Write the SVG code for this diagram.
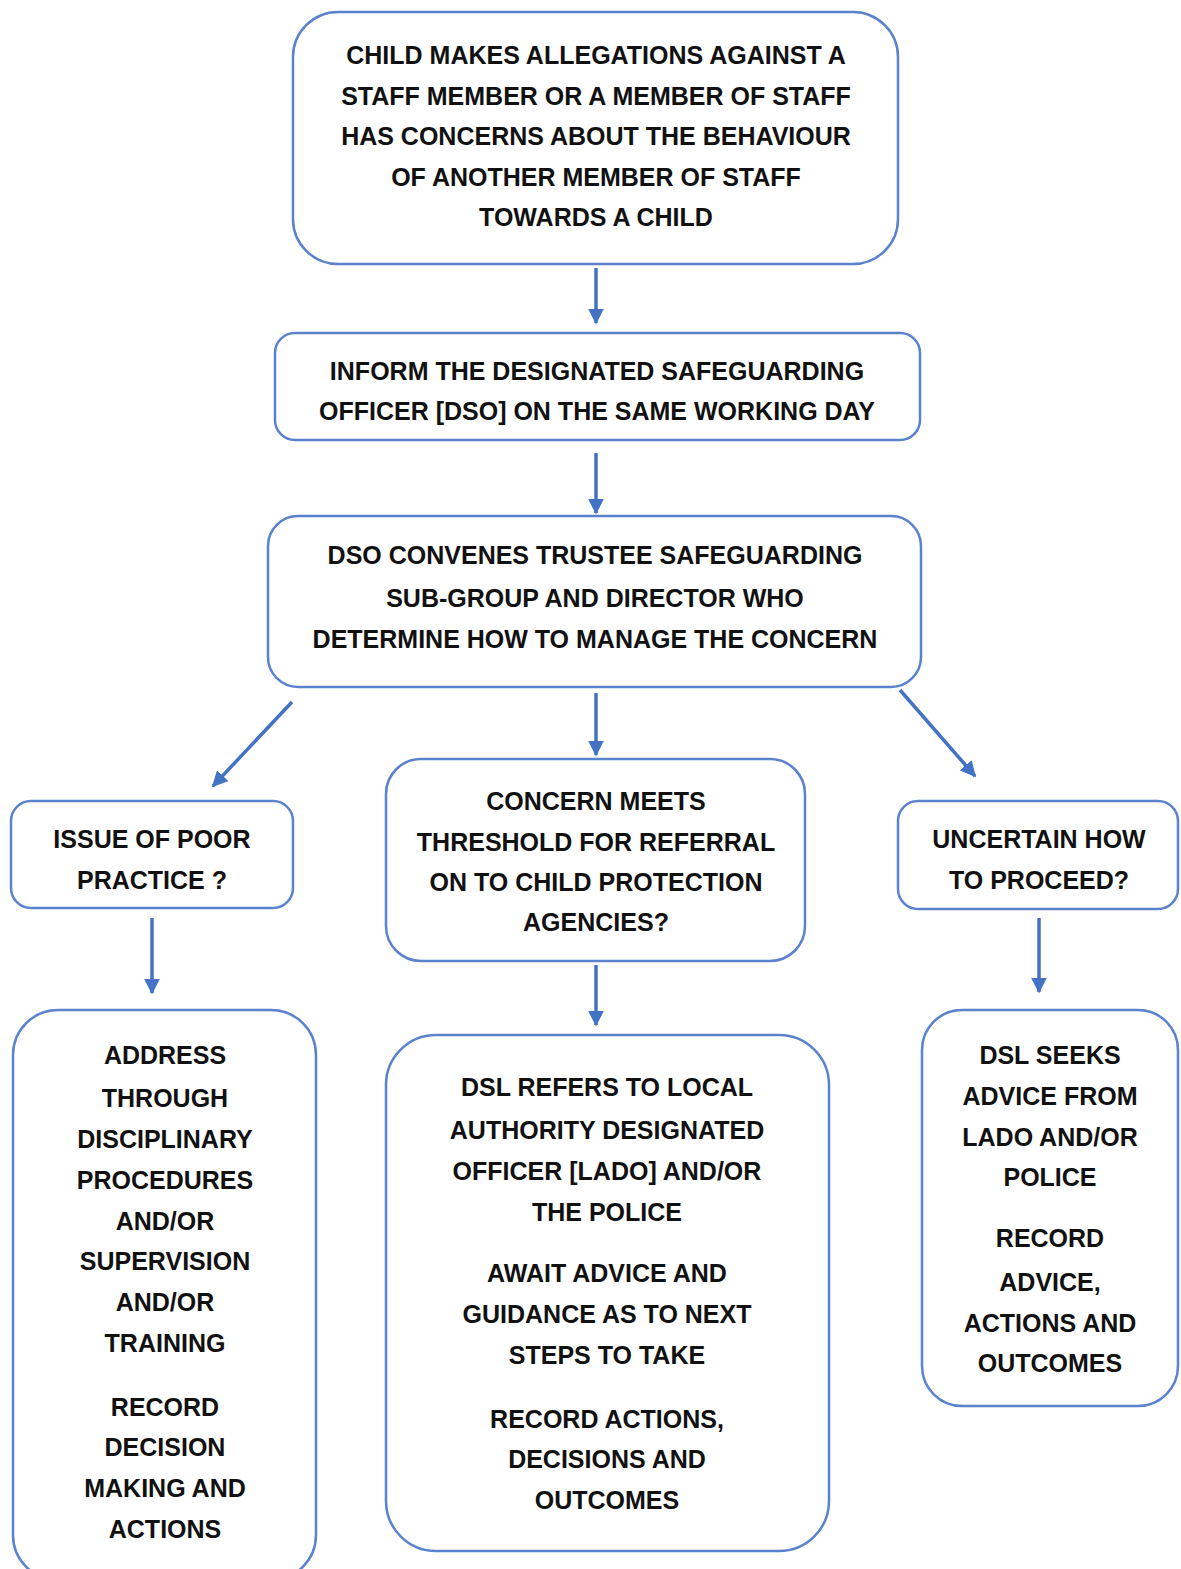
<svg xmlns="http://www.w3.org/2000/svg" width="1181" height="1569" viewBox="0 0 1181 1569">
<style>
.box{fill:#fff;stroke:#5b82cc;stroke-width:2.5}
.t{font-family:"Liberation Sans",Arial,sans-serif;font-weight:bold;font-size:25px;fill:#111;text-anchor:middle}
.c{stroke:#4472c4;stroke-width:3.5;fill:none}
</style>
<defs>
<marker id="ah" viewBox="0 0 10 10" refX="9" refY="5" markerWidth="4.5" markerHeight="4.5" orient="auto" markerUnits="strokeWidth">
<path d="M0,0 L10,5 L0,10 z" fill="#4472c4"/>
</marker>
</defs>
<rect width="1181" height="1569" fill="#fff"/>
<g id="connectors">
<line class="c" x1="596" y1="268" x2="596" y2="323" marker-end="url(#ah)"/>
<line class="c" x1="596" y1="453" x2="596" y2="513" marker-end="url(#ah)"/>
<line class="c" x1="292" y1="702" x2="213" y2="786" marker-end="url(#ah)"/>
<line class="c" x1="596" y1="693" x2="596" y2="755" marker-end="url(#ah)"/>
<line class="c" x1="900" y1="690" x2="975" y2="776" marker-end="url(#ah)"/>
<line class="c" x1="152" y1="918" x2="152" y2="993" marker-end="url(#ah)"/>
<line class="c" x1="596" y1="965" x2="596" y2="1025" marker-end="url(#ah)"/>
<line class="c" x1="1039" y1="918" x2="1039" y2="992" marker-end="url(#ah)"/>
</g>
<g id="n1">
<rect class="box" x="293" y="12" width="605" height="252" rx="45"/>
<text class="t" x="596" y="64">CHILD MAKES ALLEGATIONS AGAINST A</text>
<text class="t" x="596" y="105">STAFF MEMBER OR A MEMBER OF STAFF</text>
<text class="t" x="596" y="145">HAS CONCERNS ABOUT THE BEHAVIOUR</text>
<text class="t" x="596" y="186">OF ANOTHER MEMBER OF STAFF</text>
<text class="t" x="596" y="226">TOWARDS A CHILD</text>
</g>
<g id="n2">
<rect class="box" x="275" y="333" width="645" height="107" rx="20"/>
<text class="t" x="597" y="380">INFORM THE DESIGNATED SAFEGUARDING</text>
<text class="t" x="597" y="420">OFFICER [DSO] ON THE SAME WORKING DAY</text>
</g>
<g id="n3">
<rect class="box" x="268" y="516" width="653" height="171" rx="30"/>
<text class="t" x="595" y="564">DSO CONVENES TRUSTEE SAFEGUARDING</text>
<text class="t" x="595" y="607">SUB-GROUP AND DIRECTOR WHO</text>
<text class="t" x="595" y="648">DETERMINE HOW TO MANAGE THE CONCERN</text>
</g>
<g id="n4">
<rect class="box" x="11" y="801" width="282" height="107" rx="20"/>
<text class="t" x="152" y="848">ISSUE OF POOR</text>
<text class="t" x="152" y="889">PRACTICE ?</text>
</g>
<g id="n5">
<rect class="box" x="386" y="759" width="419" height="202" rx="35"/>
<text class="t" x="596" y="810">CONCERN MEETS</text>
<text class="t" x="596" y="851">THRESHOLD FOR REFERRAL</text>
<text class="t" x="596" y="891">ON TO CHILD PROTECTION</text>
<text class="t" x="596" y="931">AGENCIES?</text>
</g>
<g id="n6">
<rect class="box" x="898" y="801" width="280" height="108" rx="20"/>
<text class="t" x="1039" y="848">UNCERTAIN HOW</text>
<text class="t" x="1039" y="889">TO PROCEED?</text>
</g>
<g id="n7">
<rect class="box" x="13" y="1010" width="303" height="570" rx="45"/>
<text class="t" x="165" y="1064">ADDRESS</text>
<text class="t" x="165" y="1107">THROUGH</text>
<text class="t" x="165" y="1148">DISCIPLINARY</text>
<text class="t" x="165" y="1189">PROCEDURES</text>
<text class="t" x="165" y="1230">AND/OR</text>
<text class="t" x="165" y="1270">SUPERVISION</text>
<text class="t" x="165" y="1311">AND/OR</text>
<text class="t" x="165" y="1352">TRAINING</text>
<text class="t" x="165" y="1416">RECORD</text>
<text class="t" x="165" y="1456">DECISION</text>
<text class="t" x="165" y="1497">MAKING AND</text>
<text class="t" x="165" y="1538">ACTIONS</text>
</g>
<g id="n8">
<rect class="box" x="386" y="1035" width="443" height="516" rx="50"/>
<text class="t" x="607" y="1096">DSL REFERS TO LOCAL</text>
<text class="t" x="607" y="1139">AUTHORITY DESIGNATED</text>
<text class="t" x="607" y="1180">OFFICER [LADO] AND/OR</text>
<text class="t" x="607" y="1221">THE POLICE</text>
<text class="t" x="607" y="1282">AWAIT ADVICE AND</text>
<text class="t" x="607" y="1323">GUIDANCE AS TO NEXT</text>
<text class="t" x="607" y="1364">STEPS TO TAKE</text>
<text class="t" x="607" y="1428">RECORD ACTIONS,</text>
<text class="t" x="607" y="1468">DECISIONS AND</text>
<text class="t" x="607" y="1509">OUTCOMES</text>
</g>
<g id="n9">
<rect class="box" x="922" y="1010" width="256" height="396" rx="40"/>
<text class="t" x="1050" y="1064">DSL SEEKS</text>
<text class="t" x="1050" y="1105">ADVICE FROM</text>
<text class="t" x="1050" y="1146">LADO AND/OR</text>
<text class="t" x="1050" y="1186">POLICE</text>
<text class="t" x="1050" y="1247">RECORD</text>
<text class="t" x="1050" y="1291">ADVICE,</text>
<text class="t" x="1050" y="1332">ACTIONS AND</text>
<text class="t" x="1050" y="1372">OUTCOMES</text>
</g>
</svg>
